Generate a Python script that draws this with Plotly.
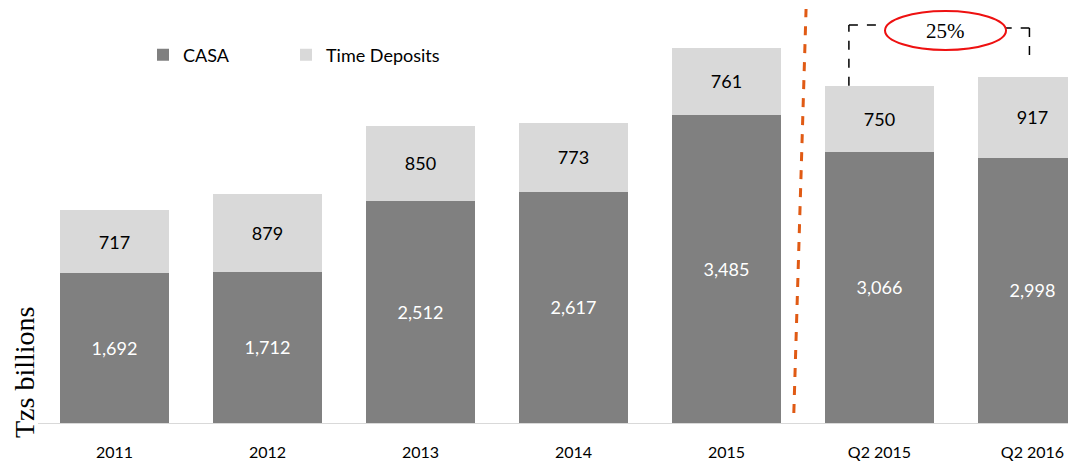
import plotly.graph_objects as go

categories = ["2011", "2012", "2013", "2014", "2015", "Q2 2015", "Q2 2016"]
casa = [1692, 1712, 2512, 2617, 3485, 3066, 2998]
time_deposits = [717, 879, 850, 773, 761, 750, 917]
growth_label = "25%"

def fmt(v):
    return f"{v:,}"

# page offset of 8px (default body margin) is compensated
BASE = 423.0   # baseline y in page pixels
TOP = 8.0      # plot top in page pixels
PH = BASE - TOP
ymax = PH / 0.0884

def py(pix):
    return (BASE - pix) / PH

def dy(pix):
    return (BASE - pix) * ymax / PH

fig = go.Figure()
fig.add_trace(go.Bar(
    x=categories, y=casa, name="CASA", legend="legend",
    marker=dict(color="#808080", line=dict(width=0)),
    text=[fmt(v) for v in casa], textposition="inside", insidetextanchor="middle",
    textfont=dict(color="white", size=18, family="Lato"),
    textangle=0,
))
fig.add_trace(go.Bar(
    x=categories, y=time_deposits, name="Time Deposits", legend="legend2",
    marker=dict(color="#d9d9d9", line=dict(width=0)),
    text=[fmt(v) for v in time_deposits], textposition="inside", insidetextanchor="middle",
    textfont=dict(color="black", size=18, family="Lato"),
    textangle=0,
))

totals = [c + t for c, t in zip(casa, time_deposits)]
i1, i2 = 5, 6
shapes = []
shapes.append(dict(type="line", xref="x", yref="paper", x0=4.44, x1=4.52, y0=py(413), y1=py(9),
                   line=dict(color="#e05a14", width=3, dash="dash")))
dash = dict(color="black", width=1.5, dash="dash")
shapes.append(dict(type="line", xref="x", yref="y", x0=i1 - 0.2, x1=i1 - 0.2, y0=totals[i1], y1=dy(25), line=dash))
shapes.append(dict(type="line", xref="x", yref="y", x0=i1 - 0.2, x1=i1 + 0.03, y0=dy(25), y1=dy(25), line=dash))
shapes.append(dict(type="line", xref="x", yref="y", x0=i2 - 0.43, x1=i2 - 0.02, y0=dy(28), y1=dy(28), line=dash))
shapes.append(dict(type="line", xref="x", yref="y", x0=i2 - 0.02, x1=i2 - 0.02, y0=dy(28), y1=totals[i2] + 170, line=dash))
shapes.append(dict(type="circle", xref="x", yref="y", x0=i1 + 0.036, x1=i1 + 0.827,
                   y0=dy(50), y1=dy(11),
                   line=dict(color="#ee1111", width=2), fillcolor="white", layer="above"))

legend_common = dict(orientation="h", yanchor="middle", xanchor="left",
                     font=dict(size=18, family="Lato", color="black"),
                     bgcolor="rgba(0,0,0,0)", itemwidth=30)

fig.update_layout(
    width=1068, height=456,
    margin=dict(l=30, r=0, t=0, b=41),
    barmode="stack", bargap=0.288,
    plot_bgcolor="white", paper_bgcolor="white",
    font=dict(family="Lato", color="black"),
    showlegend=True,
    legend=dict(x=(143 - 38) / 1038, y=py(55), **legend_common),
    legend2=dict(x=(286 - 38) / 1038, y=py(55), **legend_common),
    xaxis=dict(range=[-0.5, -0.5 + 1038 / 153], showline=True, linecolor="#d9d9d9", linewidth=1,
               showgrid=False, ticks="", tickfont=dict(size=16, family="Lato", color="black"),
               ticklabelstandoff=15, fixedrange=True),
    yaxis=dict(range=[0, ymax], visible=False, showgrid=False, zeroline=False),
    shapes=shapes,
    annotations=[
        dict(text=growth_label, xref="x", yref="y", x=i1 + 0.43, y=dy(31),
             showarrow=False, font=dict(family="Liberation Serif", size=21, color="black")),
        dict(text="Tzs billions", xref="paper", yref="paper", x=-0.0135, y=py(372), xanchor="center",
             yanchor="middle", textangle=-90, showarrow=False, borderpad=0,
             font=dict(family="Liberation Serif", size=28, color="black")),
    ],
)
fig.write_html("out.html")
